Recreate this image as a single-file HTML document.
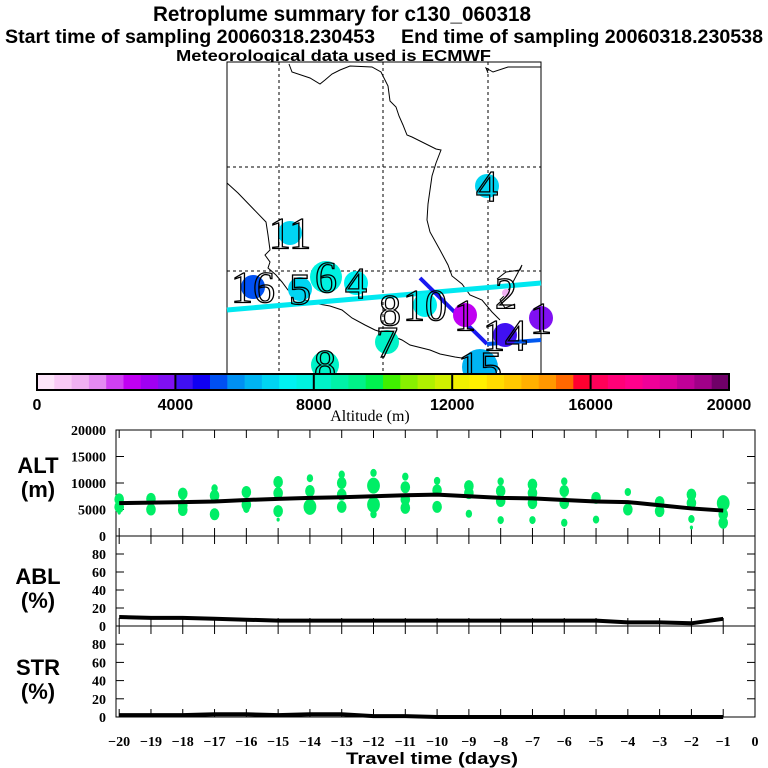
<!DOCTYPE html>
<html><head><meta charset="utf-8"><style>
html,body{margin:0;padding:0;background:#fff;}
svg{display:block;}
.t{font-family:"Liberation Sans",sans-serif;font-weight:bold;}
.s{font-family:"Liberation Serif",serif;}
</style></head><body>
<svg id="c" width="768" height="768" viewBox="0 0 768 768" xmlns="http://www.w3.org/2000/svg">
<rect width="768" height="768" fill="#fff"/>
<text class="t" x="153" y="21" font-size="21" textLength="378" lengthAdjust="spacingAndGlyphs">Retroplume summary for c130_060318</text>
<text class="t" x="5" y="43" font-size="19" textLength="370" lengthAdjust="spacingAndGlyphs">Start time of sampling 20060318.230453</text>
<text class="t" x="401" y="43" font-size="19" textLength="362" lengthAdjust="spacingAndGlyphs">End time of sampling 20060318.230538</text>
<text class="t" x="176" y="61" font-size="16" textLength="315" lengthAdjust="spacingAndGlyphs">Meteorological data used is ECMWF</text>

<g id="map">
<rect x="227" y="62" width="314" height="312" fill="#fff" stroke="#000" stroke-width="1"/>
<g stroke="#000" stroke-dasharray="3,3" stroke-width="1">
<line x1="279" y1="62" x2="279" y2="374"/><line x1="383" y1="62" x2="383" y2="374"/><line x1="488" y1="62" x2="488" y2="374"/>
<line x1="227" y1="167" x2="541" y2="167"/><line x1="227" y1="271" x2="541" y2="271"/>
</g>
<g fill="none" stroke="#000" stroke-width="1">
<path d="M289 64 L292 72 L310 78 L320 84 L325 80 L332 74 L340 70 L350 66 L372 67 L381 72 L388 86 L390 101 L396 107 L399 116 L403 125 L407 135 L412 137 L436 149 L441 150 L436 163 L432 176 L430 190 L428 204 L427 220 L430 232 L440 250 L448 265 L452 276 L462 284 L470 295 L482 300 L492 312 L500 320"/>
<path d="M488 73 L486 68 L493 72 L508 67 L541 67"/>
<path d="M227 183 L238 193 L266 222 L268 235 L270 250 L265 255 L270 262 L268 268 L276 275 L282 282 L288 290 L300 298 L313 303 L330 306 L342 310 L352 318 L365 325 L375 330 L390 335 L402 340 L410 345 L430 350 L440 354 L455 357 L475 360 L490 364 L500 370"/>
<path d="M497 279 L506 272 L520 270 L522 265 L513 282 L506 294 L500 300 L505 308 L515 304"/>
</g>
<g>
<line x1="227" y1="310" x2="541" y2="283" stroke="#00e8f0" stroke-width="5"/>
<polyline points="420,278 487,344" fill="none" stroke="#1818f0" stroke-width="4"/>
<polyline points="487,344 541,340" fill="none" stroke="#0058f0" stroke-width="4"/>
</g>
<g id="clusters"></g>
</g>

<g id="cbar"></g>
<text class="s" x="370" y="421" font-size="16" text-anchor="middle">Altitude (m)</text>

<g id="panels"></g>
<text class="t" x="432" y="764" font-size="17" text-anchor="middle" textLength="172" lengthAdjust="spacingAndGlyphs">Travel time (days)</text>
</svg>
<script>
var NS="http://www.w3.org/2000/svg";
// ---- data ----
var days=[-20,-19,-18,-17,-16,-15,-14,-13,-12,-11,-10,-9,-8,-7,-6,-5,-4,-3,-2,-1];
var altMean=[6200,6300,6400,6500,6800,7000,7200,7300,7500,7700,7800,7500,7200,7100,6800,6500,6400,5800,5200,4800];
var ablMean=[10,9,9,8,7,6,6,6,6,6,6,6,6,6,6,6,4,4,3,8];
var strMean=[2,2,2,3,3,2,3,3,1,1,0,0,0,0,0,0,0,0,0,0];
var dotDay=[-20,-20,-20,-19,-19,-18,-18,-18,-17,-17,-17,-16,-16,-16,-15,-15,-15,-15,-14,-14,-14,-13,-13,-13,-13,-12,-12,-12,-12,-11,-11,-11,-11,-10,-10,-10,-9,-9,-9,-8,-8,-8,-8,-7,-7,-7,-7,-6,-6,-6,-6,-5,-5,-4,-4,-3,-3,-2,-2,-2,-2,-1,-1,-1];
var dotAlt=[6900,5500,4400,7000,5000,8000,5800,4900,9000,7600,4100,8300,5900,5100,10200,8100,4700,3100,10900,8500,5500,11600,10000,7800,5500,11900,9500,5900,4100,11200,9200,6900,5300,10400,8600,5500,9400,8100,4200,10300,8500,6600,3000,9700,8100,6200,3000,10300,8500,6200,2500,7200,3100,8300,5000,6400,4700,7800,6200,3200,1600,6200,4100,2500];
var dotSize=[3,3,1,3,3,3,3,3,2,3,3,3,3,2,3,3,3,1,2,3,4,2,3,3,3,2,4,4,2,2,3,3,3,2,3,3,3,3,2,2,3,3,2,3,3,3,2,2,3,3,2,3,2,2,3,3,3,3,3,2,1,4,3,3];
var cbTicks=[0,4000,8000,12000,16000,20000];
var cbColors=["#fde6fa","#f9caf6","#f0b0f2","#e48af2","#d040f2","#c000f2","#a000f2","#8010f2","#4010f2","#1000f2","#0050f2","#0090f2","#00b4f2","#00d4f2","#00f2f2","#00f2e0","#00f2c8","#00f2a8","#00f288","#00f250","#40f000","#88f000","#b0f000","#d0f000","#f0f000","#fff000","#ffdc00","#ffc800","#ffb000","#ff9800","#ff6800","#ff0030","#ff0058","#ff0078","#ff008c","#f00098","#dc009c","#c00098","#a00088","#700068"];
var mkLabel=["4","11","16","5","6","4","8","10","1","7","8","14","1","15","2"];
var mkLon=[487,290,253,300,326,356,390,425,465,387,325,505,541,480,506];
var mkLat=[186,233,287,289,277,283,310,305,315,342,365,335,318,367,293];
var mkAlt=[6700,6700,5000,6700,7600,7100,0,7100,2600,8000,8400,4200,3800,6200,1200];
var mkR=[12,12,12,12,16,12,0,12,12,12,14,12,12,18,4];

function el(t,a,p){var e=document.createElementNS(NS,t);for(var k in a)e.setAttribute(k,a[k]);(p||document.getElementById('c')).appendChild(e);return e;}
function cbColor(v){var i=Math.min(39,Math.floor(v/500));return cbColors[i];}

// colorbar
var cb=document.getElementById('cbar');
var cbX0=37,cbX1=729,cbY=374,cbH=16;
function cx(v){return cbX0+(v/20000)*(cbX1-cbX0);}
cbColors.forEach(function(c,i){
 var r=el('rect',{x:cx(i*500),y:cbY,width:(cbX1-cbX0)/40+0.5,height:cbH,fill:c},cb);
 
 
});
el('rect',{x:cbX0,y:cbY,width:cbX1-cbX0,height:cbH,fill:'none',stroke:'#000','stroke-width':2},cb);
cbTicks.forEach(function(v){
 if(v>0&&v<20000)el('line',{x1:cx(v),y1:cbY,x2:cx(v),y2:cbY+cbH,stroke:'#000','stroke-width':2},cb);
 var t=el('text',{x:cx(v),y:410,'font-size':16,'text-anchor':'middle','class':'t'},cb);
 t.textContent=v;
 
 
});

// map markers
var mg=document.getElementById('clusters');
mkLabel.forEach(function(l,i){
 if(mkR[i]>0){var c=el('circle',{cx:mkLon[i],cy:mkLat[i],r:mkR[i],fill:cbColor(mkAlt[i])},mg);
 
 }
});
mkLabel.forEach(function(l,i){
 var t=el('text',{x:mkLon[i],y:mkLat[i]+15,'font-size':44,'text-anchor':'middle','class':'s',fill:'none',stroke:'#000','stroke-width':1.3},mg);
 t.textContent=l;
 
 
});

// panels
var P=document.getElementById('panels');
var X0=116,X1=755;
function xd(d){return X1+d*(X1-X0)/20.1;}
var panels=[
 {name:'alt',top:430,bot:536,max:20000,ticks:[0,5000,10000,15000,20000],lab:['ALT','(m)'],ly:473,series:altMean},
 {name:'abl',top:536,bot:626,max:100,ticks:[0,20,40,60,80],lab:['ABL','(%)'],ly:584,series:ablMean},
 {name:'str',top:626,bot:717,max:100,ticks:[0,20,40,60,80],lab:['STR','(%)'],ly:675,series:strMean}
];
panels.forEach(function(p){
 var g=el('g',{},P);
 
 
 function y(v){return p.bot-(v/p.max)*(p.bot-p.top);}
 el('rect',{x:X0,y:p.top,width:X1-X0,height:p.bot-p.top,fill:'none',stroke:'#000','stroke-width':1},g);
 for(var d=-20;d<=-1;d++){
  el('line',{x1:xd(d),y1:p.top,x2:xd(d),y2:p.top+8,stroke:'#000'},g);
  el('line',{x1:xd(d),y1:p.bot,x2:xd(d),y2:p.bot-8,stroke:'#000'},g);
 }
 p.ticks.forEach(function(v){
  el('line',{x1:X0,y1:y(v),x2:X0+8,y2:y(v),stroke:'#000'},g);
  el('line',{x1:X1,y1:y(v),x2:X1-8,y2:y(v),stroke:'#000'},g);
  var t=el('text',{x:106,y:y(v)+5,'font-size':14,'text-anchor':'end','class':'s','font-weight':'bold'},g);
  t.textContent=v;
  
  
 });
 var t1=el('text',{x:38,y:p.ly,'font-size':22,'text-anchor':'middle','class':'t'},g);t1.textContent=p.lab[0];
 
 
 var t2=el('text',{x:38,y:p.ly+24,'font-size':22,'text-anchor':'middle','class':'t'},g);t2.textContent=p.lab[1];
 
 
 if(p.name==='alt'){
  dotDay.forEach(function(d,i){
   var s=dotSize[i];
   var e=el('ellipse',{cx:xd(d),cy:y(dotAlt[i]),rx:s*1.6,ry:s*2,fill:'#00ee66'},g);
   
   
  });
 }
 var pts=days.map(function(d,i){return xd(d)+','+y(p.series[i]);}).join(' ');
 var pl=el('polyline',{points:pts,fill:'none',stroke:'#000','stroke-width':4},g);
 
 
});
for(var d=-20;d<=0;d++){
 var t=el('text',{x:xd(d),y:746,'font-size':14,'text-anchor':'middle','class':'s','font-weight':'bold'},P);
 t.textContent=(d<0?'\u2212'+(-d):'0');
 
 
}
</script>
</body></html>
